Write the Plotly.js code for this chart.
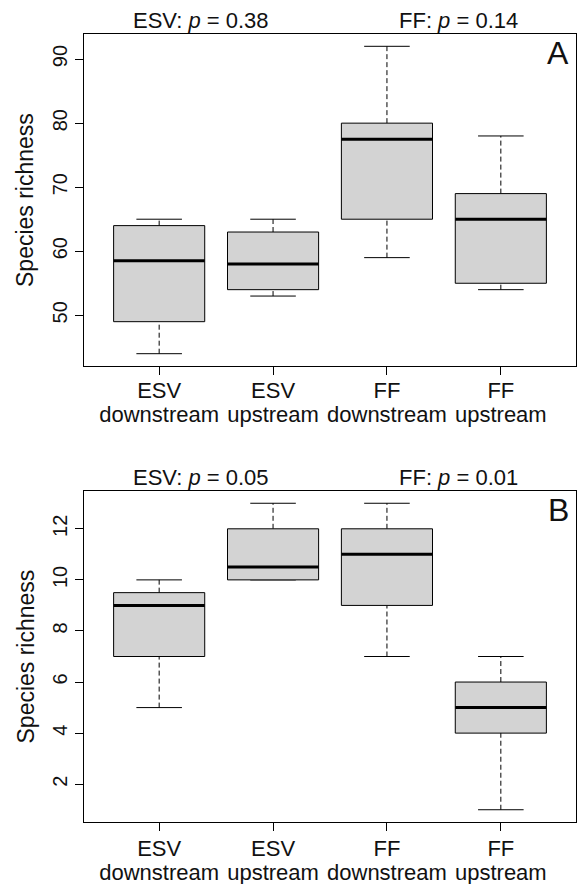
<!DOCTYPE html>
<html>
<head>
<meta charset="utf-8">
<script src="https://cdn.plot.ly/plotly-3.0.1.min.js"></script>
<style>html,body{margin:0;padding:0;background:#fff;}#chart{width:577px;height:884px;}</style>
</head>
<body>
<div id="chart"></div>
<script>
// ---- data ----
var groupLine1 = ["ESV", "ESV", "FF", "FF"];
var groupLine2 = ["downstream", "upstream", "downstream", "upstream"];
var positions = [1, 2, 3, 4];

// Panel A: species richness (whisker low, Q1, median, Q3, whisker high)
var aLow = [44, 53, 59, 54];
var aQ1  = [49, 54, 65, 55];
var aMed = [58.5, 58, 77.5, 65];
var aQ3  = [64, 63, 80, 69];
var aHigh= [65, 65, 92, 78];

// Panel B
var bLow = [5, 10, 7, 1];
var bQ1  = [7, 10, 9, 4];
var bMed = [9, 10.5, 11, 5];
var bQ3  = [9.5, 12, 12, 6];
var bHigh= [10, 13, 13, 7];

var aTickVals = [50, 60, 70, 80, 90];
var bTickVals = [2, 4, 6, 8, 10, 12];
var aPvals = ["ESV: <i>p</i> = 0.38", "FF: <i>p</i> = 0.14"];
var bPvals = ["ESV: <i>p</i> = 0.05", "FF: <i>p</i> = 0.01"];
var yLabel = "Species richness";

// ---- drawing helpers ----
var BOXW = 0.4, STAPLE = 0.2;
var FONT = "Liberation Sans, Arial, Helvetica, sans-serif";
var TXT = "#111";

function panelTraces(lo, q1, med, q3, hi, xa, ya) {
  var bx = [], by = [], mx = [], my = [], wx = [], wy = [], sx = [], sy = [];
  for (var i = 0; i < positions.length; i++) {
    var p = positions[i];
    bx.push(p - BOXW, p + BOXW, p + BOXW, p - BOXW, p - BOXW, null);
    by.push(q1[i], q1[i], q3[i], q3[i], q1[i], null);
    mx.push(p - BOXW, p + BOXW, null);
    my.push(med[i], med[i], null);
    if (lo[i] < q1[i]) { wx.push(p, p, null); wy.push(lo[i], q1[i], null); }
    if (hi[i] > q3[i]) { wx.push(p, p, null); wy.push(q3[i], hi[i], null); }
    sx.push(p - STAPLE, p + STAPLE, null, p - STAPLE, p + STAPLE, null);
    sy.push(lo[i], lo[i], null, hi[i], hi[i], null);
  }
  var common = {xaxis: xa, yaxis: ya, mode: "lines", hoverinfo: "skip", showlegend: false};
  return [
    Object.assign({x: wx, y: wy, line: {color: "#000", width: 1, dash: "5px,3px"}}, common),
    Object.assign({x: sx, y: sy, line: {color: "#000", width: 1}}, common),
    Object.assign({x: bx, y: by, fill: "toself", fillcolor: "#d3d3d3", line: {color: "#000", width: 1}}, common),
    Object.assign({x: mx, y: my, line: {color: "#000", width: 3}}, common)
  ];
}

var data = [].concat(
  panelTraces(aLow, aQ1, aMed, aQ3, aHigh, "x", "y"),
  panelTraces(bLow, bQ1, bMed, bQ3, bHigh, "x2", "y2"),
  [{x: [], y: [], xaxis: "x3", yaxis: "y", mode: "lines", showlegend: false, hoverinfo: "skip"},
   {x: [], y: [], xaxis: "x4", yaxis: "y2", mode: "lines", showlegend: false, hoverinfo: "skip"}]
);

function rng(lo, hi) { var e = (hi - lo) * 0.04; return [lo - e, hi + e]; }
var aR = rng(Math.min.apply(null, aLow), Math.max.apply(null, aHigh));
var bR = rng(Math.min.apply(null, bLow), Math.max.apply(null, bHigh));
var xR = rng(0.5, positions.length + 0.5);

var W = 577, H = 884;
var xDom = [84 / W, 576 / W];
var aDom = [1 - 366 / H, 1 - 34 / H];
var bDom = [1 - 822 / H, 1 - 491 / H];

function xAxis(anchor, labels, standoff, main, over) {
  var ax = {
    domain: xDom, anchor: anchor, range: xR, tickmode: "array",
    tickvals: positions, ticktext: labels, ticks: "outside", ticklen: 8, tickwidth: 1,
    tickcolor: main ? "#000" : "rgba(0,0,0,0)", showline: main, linecolor: "#000", linewidth: 1, mirror: main,
    showgrid: false, zeroline: false, fixedrange: true, ticklabelstandoff: standoff,
    tickfont: {family: FONT, size: 22, color: TXT}
  };
  if (over) ax.overlaying = over;
  return ax;
}
function yAxis(anchor, dom, r, tv) {
  return {
    domain: dom, anchor: anchor, range: r, tickmode: "array", tickvals: tv,
    ticks: "outside", ticklen: 8, tickwidth: 1, tickcolor: "#000", tickangle: -90,
    showline: true, linecolor: "#000", linewidth: 1, mirror: true,
    showgrid: false, zeroline: false, fixedrange: true,
    tickfont: {family: FONT, size: 20, color: TXT}
  };
}

var annotations = [];
function addPanelText(dom, pv, letter, topY, letterY) {
  var xs = [201 / W, 458 / W];
  for (var k = 0; k < 2; k++) {
    annotations.push({xref: "paper", yref: "paper", x: xs[k], y: 1 - topY / H, text: pv[k], showarrow: false,
      xanchor: "center", yanchor: "middle", font: {family: FONT, size: 22, color: TXT}});
  }
  annotations.push({xref: "paper", yref: "paper", x: 558 / W, y: 1 - letterY / H, text: letter, showarrow: false,
    xanchor: "center", yanchor: "middle", font: {family: FONT, size: 32, color: TXT}});
  annotations.push({xref: "paper", yref: "paper", x: 25 / W, y: (dom[0] + dom[1]) / 2, text: yLabel, showarrow: false,
    textangle: -90, xanchor: "center", yanchor: "middle", font: {family: FONT, size: 23, color: TXT}});
}
addPanelText(aDom, aPvals, "A", 20, 53);
addPanelText(bDom, bPvals, "B", 477, 510);

var layout = {
  width: W, height: H, margin: {l: 0, r: 0, t: 0, b: 0},
  paper_bgcolor: "#fff", plot_bgcolor: "#fff", showlegend: false,
  xaxis: xAxis("y", groupLine1, -3, true),
  yaxis: yAxis("x", aDom, aR, aTickVals),
  xaxis2: xAxis("y2", groupLine1, -1, true),
  yaxis2: yAxis("x2", bDom, bR, bTickVals),
  xaxis3: xAxis("y", groupLine2, 21, false, "x"),
  xaxis4: xAxis("y2", groupLine2, 23, false, "x2"),
  annotations: annotations
};

Plotly.newPlot("chart", data, layout, {displayModeBar: false, staticPlot: true});
</script>
</body>
</html>
